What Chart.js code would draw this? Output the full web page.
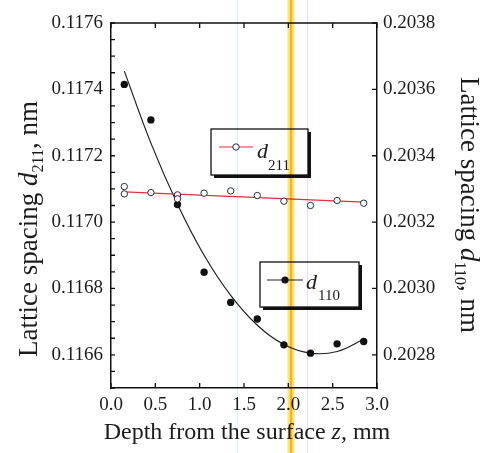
<!DOCTYPE html>
<html><head><meta charset="utf-8">
<script src="https://cdn.jsdelivr.net/npm/chart.js@4.4.1/dist/chart.umd.min.js"></script>
<style>html,body{margin:0;padding:0;background:#fff;}#wrap{width:484px;height:453px;position:relative;}</style>
</head><body><div id="wrap"><canvas id="c" width="484" height="453"></canvas></div>
<script>
// ---- data ----
const depthZ = [0.15, 0.45, 0.75, 1.05, 1.35, 1.65, 1.95, 2.25, 2.55, 2.85];
const d211Z = [0.15, 0.15, 0.45, 0.75, 0.75, 1.05, 1.35, 1.65, 1.95, 2.25, 2.55, 2.85];
const d211Values = [0.117107, 0.117085, 0.117089, 0.117082, 0.117070, 0.117087, 0.117094, 0.117080, 0.117063, 0.117050, 0.117065, 0.117057];
const d211FitZ = [0.15, 2.85];
const d211FitValues = [0.117091, 0.117060];
const d110Values = [0.203615, 0.203508, 0.203253, 0.203049, 0.202958, 0.202908, 0.202830, 0.202805, 0.202833, 0.202840];
const d110FitValues = [0.203655, 0.203438, 0.203254, 0.203100, 0.202979, 0.202889, 0.202831, 0.202805, 0.202810, 0.202847];
const xTicks = [0.0, 0.5, 1.0, 1.5, 2.0, 2.5, 3.0];
const leftTicks = [0.1166, 0.1168, 0.1170, 0.1172, 0.1174, 0.1176];
const rightTicks = [0.2028, 0.2030, 0.2032, 0.2034, 0.2036, 0.2038];
const xTitle = "Depth from the surface ";
const yTitleMain = "Lattice spacing ";
const leftSub = "211";
const rightSub = "110";

const SERIF = '"Liberation Serif", "Times New Roman", serif';
const INK = '#1c1c1c';
const tickFont = {family: SERIF, size: 19};

function pts(xs, ys) { return xs.map((x, i) => ({x: x, y: ys[i]})); }

function drawRich(ctx, parts) {
  let total = 0;
  parts.forEach(p => { ctx.font = p[1]; total += ctx.measureText(p[0]).width; });
  let x = -total / 2;
  parts.forEach(p => { ctx.font = p[1]; ctx.fillText(p[0], x, p[2]); x += ctx.measureText(p[0]).width; });
}

const decor = {
  id: 'decor',
  beforeDatasetsDraw(chart) {
    const ctx = chart.ctx, a = chart.chartArea;
    const xs = chart.scales.x, yl = chart.scales.yL, yr = chart.scales.yR;
    ctx.save();
    ctx.strokeStyle = '#111';
    ctx.lineWidth = 1.5;
    ctx.beginPath(); ctx.moveTo(a.left, a.top); ctx.lineTo(a.right, a.top); ctx.stroke();
    ctx.lineWidth = 1.3;
    ctx.beginPath();
    xTicks.forEach(v => {
      const px = xs.getPixelForValue(v);
      ctx.moveTo(px, a.bottom); ctx.lineTo(px, a.bottom - 5);
      ctx.moveTo(px, a.top); ctx.lineTo(px, a.top + 5);
    });
    for (let v = yl.min; v <= yl.max + 1e-9; v += 0.00005) {
      const py = yl.getPixelForValue(v);
      ctx.moveTo(a.left, py); ctx.lineTo(a.left + 4, py);
    }
    rightTicks.forEach(v => {
      const py = yr.getPixelForValue(v);
      ctx.moveTo(a.right, py); ctx.lineTo(a.right - 5, py);
    });
    ctx.stroke();
    ctx.restore();
  },
  afterDraw(chart) {
    const ctx = chart.ctx;
    ctx.save();
    ctx.fillStyle = INK;
    ctx.textBaseline = 'alphabetic';
    // x title
    ctx.save();
    ctx.translate((chart.chartArea.left + chart.chartArea.right) / 2 + 3, 439);
    drawRich(ctx, [[xTitle, '24px ' + SERIF, 0], ['z', 'italic 24px ' + SERIF, 0], [', mm', '24px ' + SERIF, 0]]);
    ctx.restore();
    // left title
    ctx.save();
    ctx.translate(37, 229);
    ctx.rotate(-Math.PI / 2);
    drawRich(ctx, [[yTitleMain, '27px ' + SERIF, 0], ['d', 'italic 27px ' + SERIF, 0], [leftSub, '16px ' + SERIF, 6], [', nm', '27px ' + SERIF, 0]]);
    ctx.restore();
    // right title
    ctx.save();
    ctx.translate(461, 205);
    ctx.rotate(Math.PI / 2);
    drawRich(ctx, [[yTitleMain, '27px ' + SERIF, 0], ['d', 'italic 27px ' + SERIF, 0], [rightSub, '16px ' + SERIF, 6], [', nm', '27px ' + SERIF, 0]]);
    ctx.restore();

    function legendBox(x, y, w, h) {
      ctx.fillStyle = '#111'; ctx.fillRect(x + 3, y + 3, w, h);
      ctx.fillStyle = '#fff'; ctx.fillRect(x, y, w, h);
      ctx.strokeStyle = '#111'; ctx.lineWidth = 1.3; ctx.strokeRect(x, y, w, h);
    }
    // d211 legend
    legendBox(211, 129, 97, 46);
    ctx.strokeStyle = '#e0303a'; ctx.lineWidth = 1.2;
    ctx.beginPath(); ctx.moveTo(219, 147); ctx.lineTo(253, 147); ctx.stroke();
    ctx.beginPath(); ctx.arc(236, 147, 3.2, 0, Math.PI * 2);
    ctx.fillStyle = '#fff'; ctx.fill(); ctx.strokeStyle = '#2a2a3a'; ctx.lineWidth = 1; ctx.stroke();
    ctx.fillStyle = INK;
    ctx.font = 'italic 22px ' + SERIF; ctx.fillText('d', 257, 158);
    ctx.font = '15px ' + SERIF; ctx.fillText(leftSub, 268, 170);
    // d110 legend
    legendBox(260, 262, 99, 45);
    ctx.strokeStyle = '#222'; ctx.lineWidth = 1.2;
    ctx.beginPath(); ctx.moveTo(267, 280); ctx.lineTo(303, 280); ctx.stroke();
    ctx.beginPath(); ctx.arc(285, 280, 3.6, 0, Math.PI * 2); ctx.fillStyle = '#111'; ctx.fill();
    ctx.fillStyle = INK;
    ctx.font = 'italic 22px ' + SERIF; ctx.fillText('d', 306, 289);
    ctx.font = '15px ' + SERIF; ctx.fillText(rightSub, 318, 300);

    // scan artefacts: highlighter stripe and faint lines
    const xs = chart.scales.x;
    ctx.globalCompositeOperation = 'multiply';
    const sx = xs.getPixelForValue(2.03);
    ctx.fillStyle = 'rgb(255,226,120)'; ctx.fillRect(sx - 3.5, 0, 7, 453);
    ctx.fillStyle = 'rgb(250,198,80)'; ctx.fillRect(sx - 1, 0, 2, 453);
    ctx.fillStyle = 'rgb(222,244,248)'; ctx.fillRect(Math.round(xs.getPixelForValue(1.42)), 0, 1, 453);
    ctx.fillStyle = 'rgb(240,218,246)'; ctx.fillRect(Math.round(xs.getPixelForValue(2.21)), 0, 1, 453);
    ctx.restore();
  }
};

new Chart(document.getElementById('c').getContext('2d'), {
  type: 'scatter',
  data: {
    datasets: [
      {label: 'd211', data: pts(d211Z, d211Values), yAxisID: 'yL', showLine: false,
       pointRadius: 3.2, borderWidth: 1, borderColor: '#2a2a3a', backgroundColor: '#fff'},
      {label: 'd211 fit', data: pts(d211FitZ, d211FitValues), yAxisID: 'yL', showLine: true,
       pointRadius: 0, borderColor: '#e0303a', borderWidth: 1.2},
      {label: 'd110', data: pts(depthZ, d110Values), yAxisID: 'yR', showLine: false,
       pointRadius: 3.7, borderWidth: 0, borderColor: '#111', backgroundColor: '#111'},
      {label: 'd110 fit', data: pts(depthZ, d110FitValues), yAxisID: 'yR', showLine: true,
       pointRadius: 0, borderColor: '#222', borderWidth: 1.2, tension: 0.4}
    ]
  },
  options: {
    responsive: false, animation: false, devicePixelRatio: 1,
    layout: {padding: {top: 23, left: 0, right: 0, bottom: 0}},
    plugins: {legend: {display: false}, tooltip: {enabled: false}},
    scales: {
      x: {type: 'linear', position: 'bottom', min: 0, max: 3,
          grid: {display: false, drawTicks: false}, border: {display: true, color: '#111', width: 1.5},
          ticks: {font: tickFont, color: INK, padding: 6, maxRotation: 0, callback: v => Number(v).toFixed(1)},
          afterBuildTicks: s => { s.ticks = xTicks.map(v => ({value: v})); },
          afterFit: s => { s.height = 65; }},
      yL: {type: 'linear', position: 'left', min: 0.1165, max: 0.1176,
           grid: {display: false, drawTicks: false}, border: {display: true, color: '#111', width: 1.5},
           ticks: {font: tickFont, color: INK, padding: 8, callback: v => Number(v).toFixed(4)},
           afterBuildTicks: s => { s.ticks = leftTicks.map(v => ({value: v})); },
           afterFit: s => { s.width = 111; }},
      yR: {type: 'linear', position: 'right', min: 0.2027, max: 0.2038,
           grid: {display: false, drawTicks: false}, border: {display: true, color: '#111', width: 1.5},
           ticks: {font: tickFont, color: INK, padding: 6, callback: v => Number(v).toFixed(4)},
           afterBuildTicks: s => { s.ticks = rightTicks.map(v => ({value: v})); },
           afterFit: s => { s.width = 107; }}
    }
  },
  plugins: [decor]
});
</script></body></html>
